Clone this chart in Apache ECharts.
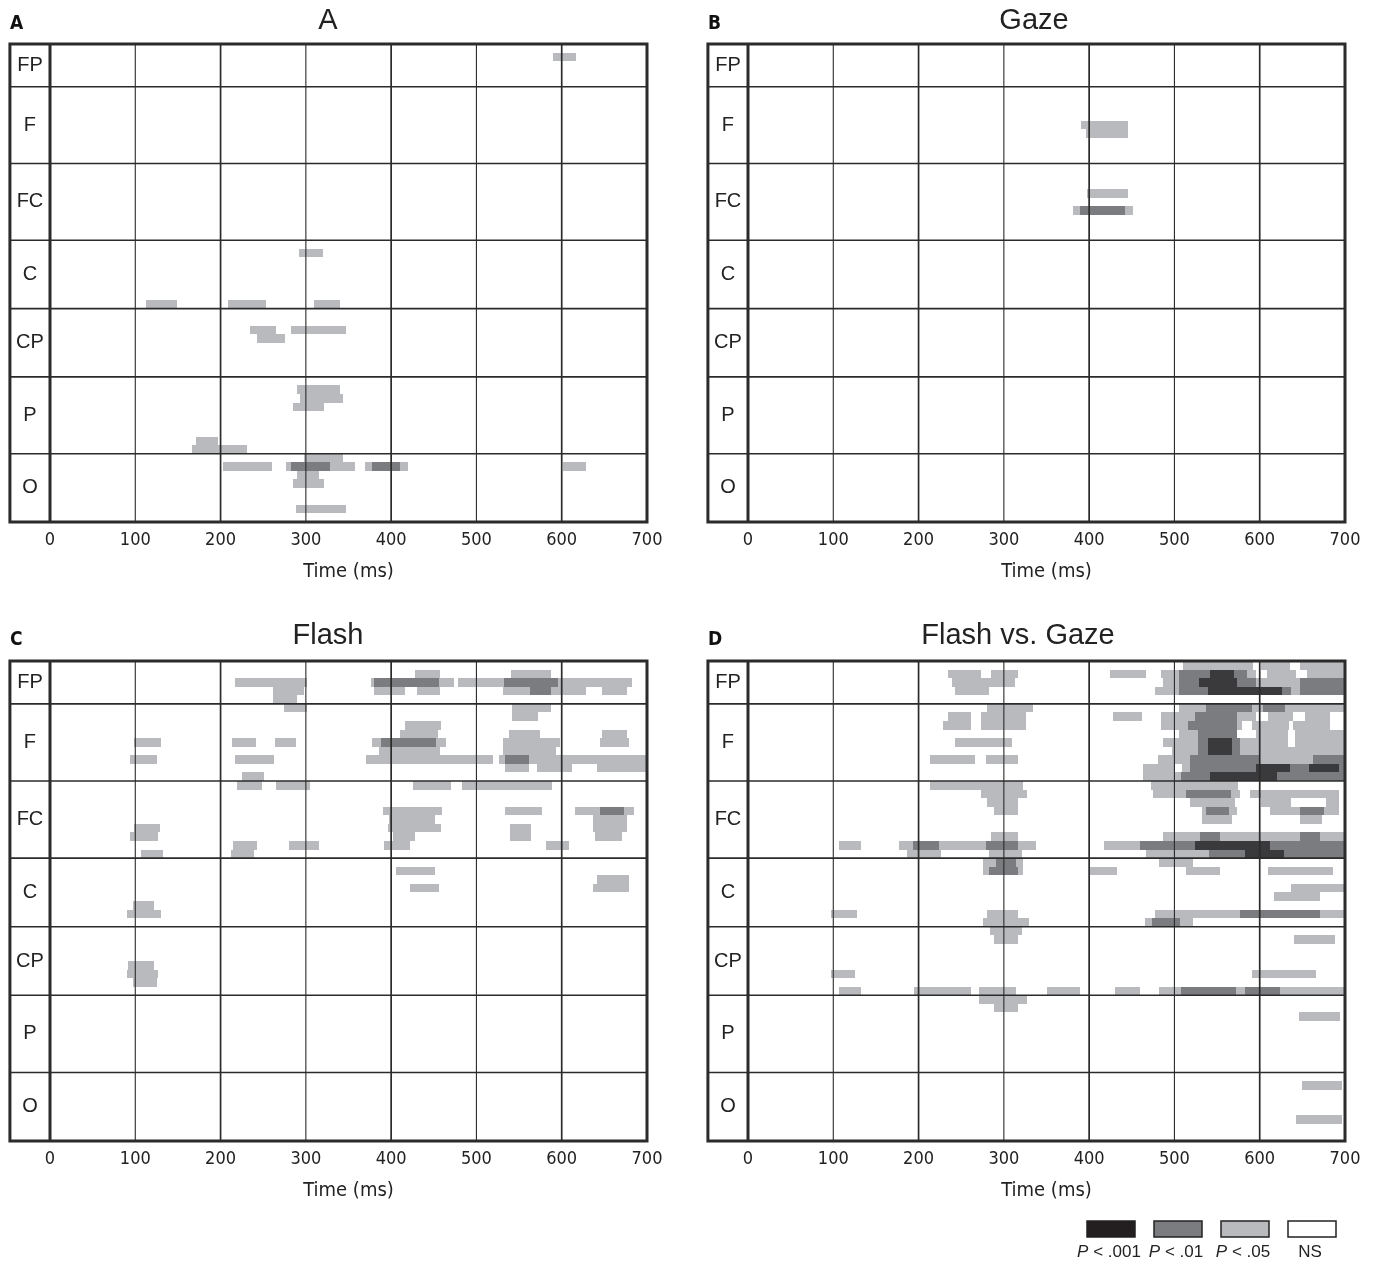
<!DOCTYPE html>
<html>
<head>
<meta charset="utf-8">
<title>Significance over time by electrode group</title>
<script src="https://cdn.jsdelivr.net/npm/echarts@6/dist/echarts.min.js"></script>
<style>
  html, body { margin: 0; background: #fff; }
  #chart { width: 1380px; height: 1262px; }
</style>
</head>
<body>
<div id="chart"></div>
<script>
// electrode groups, top to bottom, and how many electrode rows each holds
var groupNames = ['FP', 'F', 'FC', 'C', 'CP', 'P', 'O'];
var groupRows = [5, 9, 9, 8, 8, 9, 8];
var timeTicks = [0, 100, 200, 300, 400, 500, 600, 700];
var panelTitles = ['A', 'Gaze', 'Flash', 'Flash vs. Gaze'];
var panelLetters = ['A', 'B', 'C', 'D'];
var levelNames = ['P < .001', 'P < .01', 'P < .05', 'NS'];

// [row, start ms, end ms, level]   level 1 = P < .05, 2 = P < .01, 3 = P < .001
var barsA = [
  [1, 590, 617, 1],
  [24, 292, 320, 1],
  [30, 113, 149, 1], [30, 209, 253, 1], [30, 310, 340, 1],
  [33, 235, 265, 1], [34, 243, 275, 1], [33, 283, 347, 1],
  [40, 290, 340, 1], [41, 293, 343, 1], [42, 285, 321, 1],
  [46, 171, 197, 1], [47, 167, 231, 1],
  [48, 298, 343, 1],
  [49, 203, 260, 1], [49, 277, 358, 1], [49, 283, 328, 2], [49, 369, 420, 1], [49, 378, 410, 2], [49, 602, 629, 1],
  [50, 290, 315, 1], [51, 285, 321, 1], [54, 288, 347, 1]
];

var barsB = [
  [9, 390, 446, 1], [10, 396, 446, 1],
  [17, 398, 446, 1],
  [19, 381, 452, 1], [19, 389, 442, 2]
];

var barsC = [
  [1, 428, 457, 1], [1, 541, 588, 1],
  [2, 217, 301, 1], [2, 376, 474, 1], [2, 380, 456, 2], [2, 478, 682, 1], [2, 532, 596, 2],
  [3, 262, 298, 1], [3, 380, 416, 1], [3, 430, 457, 1], [3, 531, 628, 1], [3, 563, 587, 2], [3, 647, 676, 1],
  [4, 262, 290, 1],
  [5, 274, 301, 1], [5, 542, 588, 1],
  [6, 542, 572, 1],
  [7, 416, 458, 1],
  [8, 410, 455, 1], [8, 538, 574, 1], [8, 647, 676, 1],
  [9, 99, 130, 1], [9, 213, 242, 1], [9, 264, 289, 1], [9, 378, 464, 1], [9, 388, 453, 2], [9, 531, 598, 1], [9, 645, 679, 1],
  [10, 386, 457, 1], [10, 531, 593, 1],
  [11, 94, 125, 1], [11, 217, 263, 1], [11, 371, 520, 1], [11, 526, 700, 1], [11, 534, 562, 2],
  [12, 534, 562, 1], [12, 571, 612, 1], [12, 641, 700, 1],
  [13, 225, 251, 1],
  [14, 219, 249, 1], [14, 265, 305, 1], [14, 426, 470, 1], [14, 483, 589, 1],
  [17, 390, 460, 1], [17, 534, 577, 1], [17, 615, 685, 1], [17, 645, 673, 2],
  [18, 398, 452, 1], [18, 637, 677, 1],
  [19, 99, 129, 1], [19, 396, 458, 1], [19, 539, 564, 1], [19, 637, 677, 1],
  [20, 94, 127, 1], [20, 402, 428, 1], [20, 539, 564, 1], [20, 639, 671, 1],
  [21, 215, 243, 1], [21, 280, 315, 1], [21, 392, 422, 1], [21, 582, 608, 1],
  [22, 107, 132, 1], [22, 212, 239, 1],
  [24, 406, 452, 1], [25, 641, 679, 1], [26, 422, 456, 1], [26, 637, 679, 1],
  [28, 97, 122, 1], [29, 90, 130, 1],
  [35, 92, 122, 1], [36, 90, 127, 1], [37, 97, 125, 1]
];

var barsD = [
  [0, 510, 592, 1], [0, 602, 635, 1], [0, 647, 700, 1],
  [1, 235, 273, 1], [1, 285, 317, 1], [1, 424, 467, 1], [1, 484, 505, 1], [1, 505, 542, 2], [1, 542, 570, 3], [1, 570, 585, 2],
  [1, 585, 596, 1], [1, 608, 643, 1], [1, 655, 700, 1],
  [2, 239, 313, 1], [2, 487, 505, 1], [2, 505, 529, 2], [2, 529, 573, 3], [2, 573, 596, 2], [2, 596, 647, 1], [2, 647, 700, 2],
  [3, 243, 283, 1], [3, 477, 505, 1], [3, 505, 539, 2], [3, 539, 626, 3], [3, 626, 637, 2], [3, 637, 647, 1], [3, 647, 700, 2],
  [5, 280, 334, 1], [5, 505, 537, 1], [5, 537, 591, 2], [5, 591, 604, 1], [5, 604, 630, 2], [5, 630, 700, 1],
  [6, 235, 262, 1], [6, 273, 326, 1], [6, 428, 462, 1], [6, 484, 524, 1], [6, 524, 573, 2], [6, 573, 596, 1], [6, 610, 639, 1], [6, 653, 682, 1],
  [7, 229, 261, 1], [7, 273, 326, 1], [7, 484, 516, 1], [7, 516, 573, 2], [7, 573, 579, 1], [7, 591, 634, 1], [7, 639, 682, 1],
  [8, 505, 528, 1], [8, 528, 573, 2], [8, 596, 633, 1], [8, 641, 700, 1],
  [9, 243, 309, 1], [9, 487, 528, 1], [9, 528, 539, 2], [9, 539, 568, 3], [9, 568, 577, 2], [9, 577, 633, 1], [9, 641, 700, 1],
  [10, 497, 528, 1], [10, 528, 539, 2], [10, 539, 568, 3], [10, 568, 577, 2], [10, 577, 700, 1],
  [11, 213, 266, 1], [11, 279, 317, 1], [11, 481, 518, 1], [11, 518, 600, 2], [11, 600, 663, 1], [11, 663, 700, 2],
  [12, 463, 501, 1], [12, 509, 518, 1], [12, 518, 596, 2], [12, 596, 635, 3], [12, 635, 658, 2], [12, 658, 693, 3], [12, 693, 700, 2],
  [13, 463, 508, 1], [13, 508, 542, 2], [13, 542, 620, 3], [13, 620, 700, 2],
  [14, 213, 322, 1], [14, 473, 575, 1],
  [15, 273, 327, 1], [15, 475, 514, 1], [15, 514, 566, 2], [15, 566, 577, 1], [15, 589, 693, 1],
  [16, 280, 317, 1], [16, 518, 571, 1], [16, 602, 637, 1], [16, 678, 693, 1],
  [17, 288, 317, 1], [17, 532, 573, 1], [17, 537, 564, 2], [17, 612, 647, 1], [17, 647, 675, 2], [17, 675, 693, 1],
  [18, 532, 568, 1], [18, 647, 673, 1],
  [20, 285, 317, 1], [20, 487, 530, 1], [20, 530, 553, 2], [20, 553, 647, 1], [20, 647, 671, 2], [20, 671, 700, 1],
  [21, 107, 132, 1], [21, 177, 338, 1], [21, 193, 224, 2], [21, 279, 317, 2], [21, 417, 460, 1], [21, 460, 524, 2], [21, 524, 612, 3], [21, 612, 700, 2],
  [22, 186, 226, 1], [22, 283, 321, 1], [22, 467, 540, 1], [22, 540, 583, 2], [22, 583, 628, 3], [22, 628, 700, 2],
  [23, 275, 323, 1], [23, 291, 314, 2], [23, 482, 522, 1],
  [24, 275, 323, 1], [24, 283, 317, 2], [24, 401, 433, 1], [24, 514, 553, 1], [24, 610, 686, 1],
  [26, 637, 700, 1],
  [27, 617, 671, 1],
  [29, 97, 128, 1], [29, 280, 317, 1], [29, 477, 577, 1], [29, 577, 671, 2], [29, 671, 700, 1],
  [30, 275, 329, 1], [30, 465, 474, 1], [30, 474, 506, 2], [30, 506, 522, 1],
  [31, 284, 321, 1], [32, 288, 317, 1], [32, 640, 688, 1],
  [36, 97, 126, 1], [36, 591, 666, 1],
  [38, 107, 132, 1], [38, 195, 261, 1], [38, 271, 314, 1], [38, 351, 389, 1], [38, 430, 460, 1], [38, 482, 508, 1],
  [38, 508, 572, 2], [38, 572, 583, 1], [38, 583, 624, 2], [38, 624, 700, 1],
  [39, 271, 327, 1], [40, 288, 317, 1], [41, 646, 694, 1],
  [49, 650, 696, 1], [53, 643, 696, 1]
];

var panelBars = [barsA, barsB, barsC, barsD];

// ---- layout / style ----
var levelColors = { 1: '#b9babd', 2: '#7b7c7f', 3: '#3a3a3c' };
var legendColors = ['#231f20', '#7b7c7f', '#b9babd', '#ffffff'];
var lineColor = '#2b2b2b';
var LABEL_START = -47;   // the electrode-name strip sits left of 0 ms
var T_MAX = 700;
var FONT = "'Liberation Sans', Arial, sans-serif";
var NARROW = "'Liberation Sans Narrow', 'DejaVu Sans Condensed', " + FONT;

var panels = [
  { left: 50, top: 44, height: 478, titleX: 328, titleY: 21, letterX: 10, letterY: 24 },
  { left: 748, top: 44, height: 478, titleX: 1034, titleY: 21, letterX: 708, letterY: 24 },
  { left: 50, top: 661, height: 480, titleX: 328, titleY: 636, letterX: 10, letterY: 640 },
  { left: 748, top: 661, height: 480, titleX: 1018, titleY: 636, letterX: 708, letterY: 640 }
];

var totalRows = groupRows.reduce(function (a, b) { return a + b; }, 0);
var groupSpans = [];
var acc = 0;
groupRows.forEach(function (n) { groupSpans.push([acc, acc + n]); acc += n; });

function renderBar(params, api) {
  var row = api.value(0);
  var p0 = api.coord([api.value(1), row]);
  var p1 = api.coord([api.value(2), row + 1]);
  var lvl = api.value(3);
  // snap to whole pixels so neighbouring rows join without hairline gaps
  var x0 = Math.round(p0[0]), x1 = Math.round(p1[0]);
  var y0 = Math.round(p0[1]), y1 = Math.round(p1[1]);
  return {
    type: 'rect',
    z2: lvl,
    shape: { x: x0, y: y0, width: x1 - x0, height: y1 - y0 },
    style: { fill: levelColors[lvl] }
  };
}

function renderGroup(params, api) {
  var start = api.value(0), end = api.value(1);
  var mid = api.coord([LABEL_START / 2, (start + end) / 2]);
  var children = [{
    type: 'text',
    x: mid[0], y: mid[1],
    style: {
      text: groupNames[params.dataIndex], fill: '#222', font: '20px ' + FONT,
      align: 'center', verticalAlign: 'middle', textAlign: 'center', textVerticalAlign: 'middle'
    }
  }];
  if (start > 0) {
    var a = api.coord([LABEL_START, start]);
    var b = api.coord([T_MAX, start]);
    children.push({
      type: 'line',
      shape: { x1: a[0], y1: a[1], x2: b[0], y2: b[1] },
      style: { stroke: lineColor, lineWidth: 1.6 }
    });
  }
  return { type: 'group', children: children };
}

function renderTimeLine(params, api) {
  var t = api.value(0);
  var a = api.coord([t, 0]);
  var b = api.coord([t, totalRows]);
  var w = t === 0 ? 3 : (t % 200 === 0 ? 1.7 : 1.1);
  return {
    type: 'line',
    shape: { x1: a[0], y1: a[1], x2: b[0], y2: b[1] },
    style: { stroke: lineColor, lineWidth: w }
  };
}

function renderBox(params, api) {
  var a = api.coord([LABEL_START, 0]);
  var b = api.coord([T_MAX, totalRows]);
  return {
    type: 'rect',
    shape: { x: a[0], y: a[1], width: b[0] - a[0], height: b[1] - a[1] },
    style: { fill: null, stroke: lineColor, lineWidth: 3 }
  };
}

var grids = [], xAxes = [], yAxes = [], series = [], graphics = [];

panels.forEach(function (p, i) {
  grids.push({ left: p.left, top: p.top, width: 597, height: p.height });
  xAxes.push({
    gridIndex: i, type: 'value', min: timeTicks[0], max: timeTicks[timeTicks.length - 1], interval: 100,
    axisLine: { show: false }, axisTick: { show: false }, splitLine: { show: false },
    axisLabel: { margin: 9, fontSize: 18, color: '#222', fontFamily: NARROW },
    name: 'Time (ms)', nameLocation: 'middle', nameGap: 40,
    nameTextStyle: { fontSize: 20, color: '#222', fontFamily: NARROW }
  });
  yAxes.push({
    gridIndex: i, type: 'value', min: 0, max: totalRows, inverse: true, show: false
  });

  var bars = panelBars[i].slice().sort(function (a, b) { return a[3] - b[3]; });
  series.push({
    type: 'custom', name: 'bars' + i, xAxisIndex: i, yAxisIndex: i, z: 2,
    renderItem: renderBar, encode: { x: [1, 2], y: 0 }, data: bars, silent: true
  });
  series.push({
    type: 'custom', name: 'groups' + i, xAxisIndex: i, yAxisIndex: i, z: 4,
    renderItem: renderGroup, encode: { x: -1, y: [0, 1] }, data: groupSpans, silent: true
  });
  series.push({
    type: 'custom', name: 'times' + i, xAxisIndex: i, yAxisIndex: i, z: 4,
    renderItem: renderTimeLine, encode: { x: 0 }, data: timeTicks.slice(0, -1).map(function (t) { return [t]; }), silent: true
  });
  series.push({
    type: 'custom', name: 'box' + i, xAxisIndex: i, yAxisIndex: i, z: 5,
    renderItem: renderBox, data: [[0]], silent: true
  });

  graphics.push({
    type: 'text', x: p.titleX, y: p.titleY,
    style: { text: panelTitles[i], fill: '#222', font: '29px ' + FONT,
      align: 'center', verticalAlign: 'middle', textAlign: 'center', textVerticalAlign: 'middle' }
  });
  graphics.push({
    type: 'text', x: p.letterX, y: p.letterY,
    style: { text: panelLetters[i], fill: '#111', font: 'bold 19px ' + NARROW,
      align: 'left', verticalAlign: 'middle', textAlign: 'left', textVerticalAlign: 'middle' }
  });
});

// legend swatches along the bottom right
levelNames.forEach(function (name, i) {
  var x = 1087 + i * 67;
  graphics.push({
    type: 'rect', shape: { x: x, y: 1221, width: 48, height: 16 },
    style: { fill: legendColors[i], stroke: '#222', lineWidth: 1.5 }
  });
  var txt = name.indexOf('P') === 0 ? '{i|P}' + name.slice(1) : name;
  graphics.push({
    type: 'text', x: x + 22, y: 1252,
    style: {
      text: txt, fill: '#222', font: '17px ' + FONT,
      align: 'center', verticalAlign: 'middle', textAlign: 'center', textVerticalAlign: 'middle',
      rich: { i: { fontStyle: 'italic', fontSize: 17, fontFamily: FONT, fill: '#222' } }
    }
  });
});

var chart = echarts.init(document.getElementById('chart'));
chart.setOption({
  animation: false,
  backgroundColor: '#fff',
  grid: grids,
  xAxis: xAxes,
  yAxis: yAxes,
  series: series,
  graphic: graphics
});
</script>
</body>
</html>
